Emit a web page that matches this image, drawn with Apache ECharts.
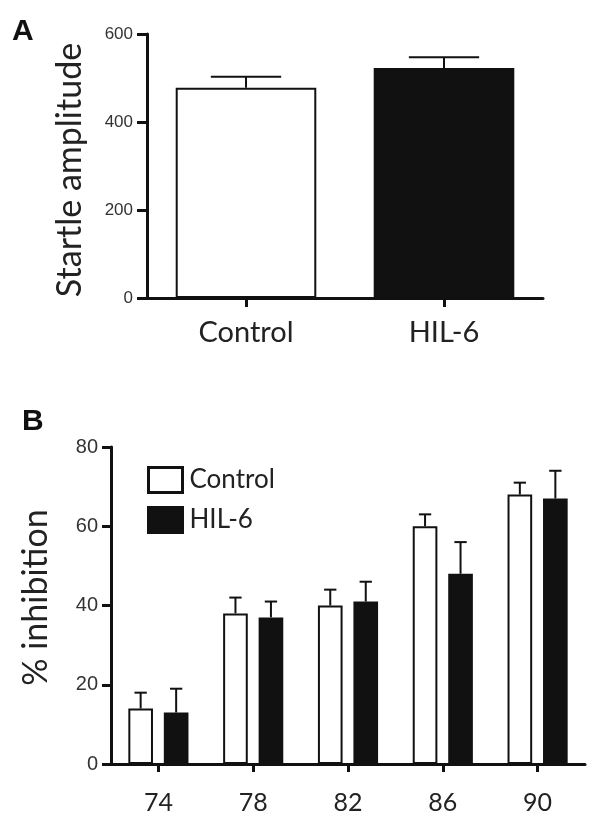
<!DOCTYPE html>
<html>
<head>
<meta charset="utf-8">
<script src="https://cdn.jsdelivr.net/npm/echarts@6/dist/echarts.min.js"></script>
<style>
  html, body { margin: 0; padding: 0; background: #fff; }
  #main { width: 604px; height: 830px; }
</style>
</head>
<body>
<div id="main"></div>
<script>
// panel A: baseline startle amplitude
const catsA = ['Control', 'HIL-6'];
const meanA = [478, 523];
const semA = [25, 24];

// panel B: prepulse inhibition by prepulse intensity
const catsB = ['74', '78', '82', '86', '90'];
const ctrlB = [14, 38, 40, 60, 68];
const ctrlSemB = [4, 4, 4, 3, 3];
const hilB = [13, 37, 41, 48, 67];
const hilSemB = [6, 4, 5, 8, 7];

const ink = '#111';
const bigFont = 'Lato, "Open Sans", sans-serif';
const tickFont = '"Liberation Sans", Arial, sans-serif';

const chart = echarts.init(document.getElementById('main'));

// error bar drawn up from the bar top; frac = bar width as part of band, shift = offset in bar widths
const errorBar = (frac, shift) => (params, api) => {
  const cat = api.value(0);
  const v = api.value(1);
  const e = api.value(2);
  const band = api.size([1, 0])[0];
  const bw = band * frac;
  const dx = shift * bw;
  const p0 = api.coord([cat, v]);
  const p1 = api.coord([cat, v + e]);
  const x = p0[0] + dx;
  const style = { stroke: ink, lineWidth: 2 };
  return {
    type: 'group',
    children: [
      { type: 'line', shape: { x1: x, y1: p0[1], x2: x, y2: p1[1] }, style },
      { type: 'line', shape: { x1: x - bw / 4, y1: p1[1], x2: x + bw / 4, y2: p1[1] }, style },
    ],
  };
};

const axisLine = { show: true, lineStyle: { color: ink, width: 3 } };

const option = {
  animation: false,
  graphic: [
    { type: 'text', left: 12, top: 17, style: { text: 'A', font: 'bold 30px "Liberation Sans", Arial', fill: ink } },
    { type: 'text', left: 22, top: 407, style: { text: 'B', font: 'bold 30px "Liberation Sans", Arial', fill: ink } },
  ],
  legend: {
    orient: 'vertical',
    left: 147,
    top: 466,
    padding: 0,
    itemWidth: 34,
    itemHeight: 25,
    itemGap: 12,
    icon: 'rect',
    textStyle: { fontFamily: bigFont, fontSize: 26, color: '#222', padding: [0, 0, 0, 2] },
    data: [
      { name: 'Control', itemStyle: { color: '#fff', borderColor: ink, borderWidth: 3 } },
      { name: 'HIL-6', itemStyle: { color: ink, borderColor: ink, borderWidth: 3 } },
    ],
  },
  grid: [
    { left: 147, top: 34, width: 396, height: 264 },
    { left: 111, top: 447, width: 474, height: 317 },
  ],
  xAxis: [
    {
      gridIndex: 0,
      type: 'category',
      data: catsA,
      axisLine,
      axisTick: { show: true, alignWithLabel: true, length: 9, lineStyle: { color: ink, width: 3 } },
      axisLabel: { margin: 20, fontFamily: bigFont, fontSize: 29, color: '#222' },
    },
    {
      gridIndex: 1,
      type: 'category',
      data: catsB,
      axisLine,
      axisTick: { show: true, alignWithLabel: true, length: 8, lineStyle: { color: ink, width: 3 } },
      axisLabel: { margin: 26, fontFamily: bigFont, fontSize: 25, color: '#222' },
    },
  ],
  yAxis: [
    {
      gridIndex: 0,
      type: 'value',
      min: 0,
      max: 600,
      interval: 200,
      name: 'Startle amplitude',
      nameLocation: 'middle',
      nameRotate: 90,
      nameGap: 60,
      nameTextStyle: { fontFamily: bigFont, fontSize: 34, color: '#222', padding: [0, 8, 0, 0] },
      axisLine,
      axisTick: { show: true, length: 10, lineStyle: { color: ink, width: 3 } },
      axisLabel: { margin: 14, fontFamily: tickFont, fontSize: 17, color: '#333' },
      splitLine: { show: false },
    },
    {
      gridIndex: 1,
      type: 'value',
      min: 0,
      max: 80,
      interval: 20,
      name: '% inhibition',
      nameLocation: 'middle',
      nameRotate: 90,
      nameGap: 58,
      nameTextStyle: { fontFamily: bigFont, fontSize: 34, color: '#222', padding: [0, 0, 0, 16] },
      axisLine,
      axisTick: { show: true, length: 9, lineStyle: { color: ink, width: 3 } },
      axisLabel: { margin: 13, fontFamily: tickFont, fontSize: 20, color: '#333' },
      splitLine: { show: false },
    },
  ],
  series: [
    {
      type: 'bar',
      xAxisIndex: 0,
      yAxisIndex: 0,
      barWidth: '71%',
      data: meanA.map((v, i) => ({
        value: v,
        itemStyle: i === 0
          ? { color: '#fff', borderColor: ink, borderWidth: 2 }
          : { color: ink, borderColor: ink, borderWidth: 2 },
      })),
    },
    {
      type: 'custom',
      xAxisIndex: 0,
      yAxisIndex: 0,
      renderItem: errorBar(0.71, 0),
      encode: { x: 0, y: 1 },
      data: meanA.map((v, i) => [i, v, semA[i]]),
      z: 3,
    },
    {
      name: 'Control',
      type: 'bar',
      xAxisIndex: 1,
      yAxisIndex: 1,
      barWidth: '26%',
      barGap: '44%',
      itemStyle: { color: '#fff', borderColor: ink, borderWidth: 2 },
      data: ctrlB,
    },
    {
      name: 'HIL-6',
      type: 'bar',
      xAxisIndex: 1,
      yAxisIndex: 1,
      barWidth: '26%',
      barGap: '44%',
      itemStyle: { color: ink, borderColor: ink, borderWidth: 2 },
      data: hilB,
    },
    {
      type: 'custom',
      xAxisIndex: 1,
      yAxisIndex: 1,
      renderItem: errorBar(0.26, -0.72),
      encode: { x: 0, y: 1 },
      data: ctrlB.map((v, i) => [i, v, ctrlSemB[i]]),
      z: 3,
    },
    {
      type: 'custom',
      xAxisIndex: 1,
      yAxisIndex: 1,
      renderItem: errorBar(0.26, 0.72),
      encode: { x: 0, y: 1 },
      data: hilB.map((v, i) => [i, v, hilSemB[i]]),
      z: 3,
    },
  ],
};

chart.setOption(option);
</script>
</body>
</html>
